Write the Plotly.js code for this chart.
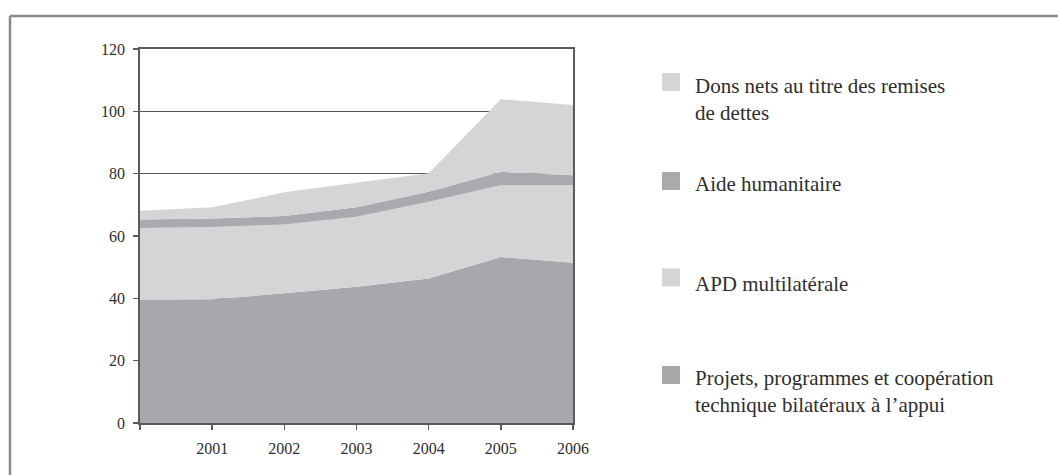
<!DOCTYPE html>
<html>
<head>
<meta charset="utf-8">
<script src="https://cdn.plot.ly/plotly-3.0.1.min.js"></script>
<style>
html,body{margin:0;padding:0;background:#fff;}
#chart{width:1058px;height:475px;}
</style>
</head>
<body>
<div id="chart"></div>
<script>
// ---- data ----
var years = [2000, 2001, 2002, 2003, 2004, 2005, 2006];
var yearLabels = ['', '2001', '2002', '2003', '2004', '2005', '2006'];
var projets = [39.6, 39.7, 41.6, 43.7, 46.4, 53.3, 51.4];
var apdMulti = [23.0, 23.2, 22.1, 22.5, 24.6, 23.0, 24.9];
var aideHum = [2.7, 2.7, 2.7, 3.0, 3.2, 4.3, 3.2];
var donsDettes = [2.8, 3.6, 7.6, 7.9, 5.9, 23.3, 22.5];
var seriesNames = [
  ['Projets, programmes et coopération', 'technique bilatéraux à l\u2019appui'],
  ['APD multilatérale'],
  ['Aide humanitaire'],
  ['Dons nets au titre des remises', 'de dettes']
];
var seriesValues = [projets, apdMulti, aideHum, donsDettes];
var seriesColors = ['#a7a8ab', '#d4d5d7', '#a9aaad', '#d4d5d7'];

// ---- layout geometry (pixels) ----
var L = 140, R = 485, T = 49, B = 52, FW = 1058, FH = 475;
var W = FW - L - R, H = FH - T - B;
function px(x) { return (x - L) / W; }
function py(y) { return (T + H - y) / H; }

var traces = seriesValues.map(function (vals, i) {
  return {
    x: years, y: vals, type: 'scatter', mode: 'lines',
    stackgroup: 'one', line: {width: 0, color: seriesColors[i]},
    fillcolor: seriesColors[i], name: seriesNames[i].join(' '),
    showlegend: false, hoverinfo: 'skip'
  };
});

var serif = 'Liberation Serif';
var textFont = {family: serif, size: 21, color: '#2e2e2e'};
var shapes = [
  // outer frame (left and top)
  {type: 'line', xref: 'paper', yref: 'paper', x0: px(10), x1: px(10), y0: py(16), y1: py(480), line: {color: '#8a8a8a', width: 2.5}},
  {type: 'line', xref: 'paper', yref: 'paper', x0: px(10), x1: px(1065), y0: py(16), y1: py(16), line: {color: '#8a8a8a', width: 2.5}}
];
var annotations = [];
// legend, top to bottom: dons, aide, apd, projets
var legendRows = [
  {idx: 3, sq: 73, cy: 99},
  {idx: 2, sq: 172, cy: 184},
  {idx: 1, sq: 268.5, cy: 284},
  {idx: 0, sq: 366, cy: 391}
];
legendRows.forEach(function (row) {
  shapes.push({type: 'rect', xref: 'paper', yref: 'paper',
    x0: px(662), x1: px(680), y0: py(row.sq), y1: py(row.sq + 18),
    fillcolor: seriesColors[row.idx], line: {width: 0}});
  annotations.push({xref: 'paper', yref: 'paper', x: px(693), y: py(row.cy),
    xanchor: 'left', yanchor: 'middle', align: 'left', showarrow: false,
    text: seriesNames[row.idx].join('<br>'), font: textFont});
});

var tickFont = {family: serif, size: 16, color: '#2e2e2e'};
var layout = {
  width: FW, height: FH,
  margin: {l: L, r: R, t: T, b: B},
  paper_bgcolor: '#ffffff', plot_bgcolor: '#ffffff',
  showlegend: false,
  font: {family: serif},
  xaxis: {
    range: [2000, 2006], tickvals: years, ticktext: yearLabels,
    showgrid: false, zeroline: false,
    showline: true, mirror: true, linecolor: '#5a5a5a', linewidth: 1.8,
    ticks: 'outside', ticklen: 5, tickcolor: '#5a5a5a', tickwidth: 1.5,
    tickfont: tickFont, ticklabelstandoff: 5
  },
  yaxis: {
    range: [0, 120], tickvals: [0, 20, 40, 60, 80, 100, 120],
    showgrid: true, gridcolor: '#555555', gridwidth: 1.2, zeroline: false,
    showline: true, mirror: true, linecolor: '#5a5a5a', linewidth: 1.8,
    ticks: 'outside', ticklen: 5, tickcolor: '#5a5a5a', tickwidth: 1.5,
    tickfont: tickFont, ticklabelstandoff: 5
  },
  shapes: shapes,
  annotations: annotations
};
Plotly.newPlot('chart', traces, layout, {staticPlot: true, displayModeBar: false});
</script>
</body>
</html>
